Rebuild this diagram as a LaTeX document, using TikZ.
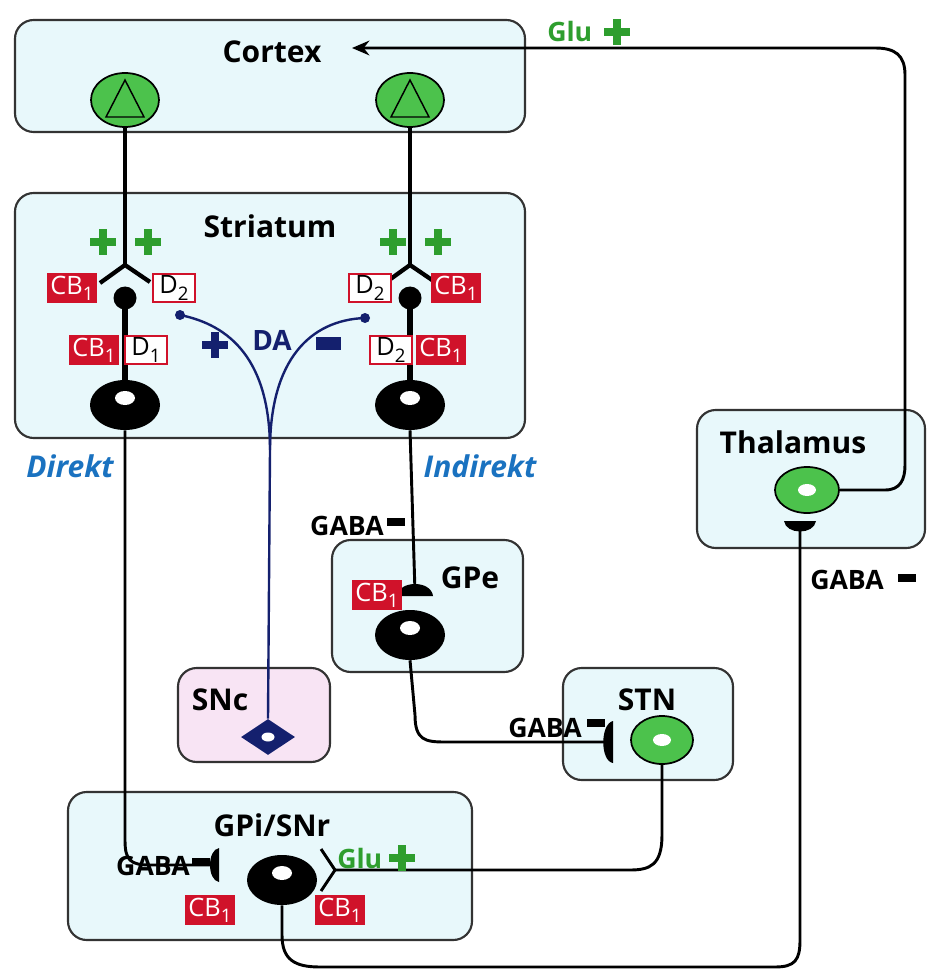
\documentclass[tikz,border=0pt]{standalone}
\usepackage{fontspec}
\setmainfont{Open Sans}
\usetikzlibrary{shapes.geometric,arrows.meta}
\definecolor{boxfill}{HTML}{E8F8FB}
\definecolor{snfill}{HTML}{F8E4F4}
\definecolor{grn}{HTML}{2E9E2E}
\definecolor{ngrn}{HTML}{4CC24C}
\definecolor{dblue}{HTML}{14206E}
\definecolor{lblue}{HTML}{1A72C0}
\definecolor{cbred}{HTML}{D0122A}
\newcommand{\pplus}[3]{\fill[#3] (#1-13,#2-4) rectangle (#1+13,#2+4); \fill[#3] (#1-4,#2-13) rectangle (#1+4,#2+13);}
\newcommand{\mminus}[3]{\fill[#3] (#1-9,#2-4) rectangle (#1+9,#2+4);}
\newcommand{\sub}[1]{\raisebox{-0.25em}{\fontsize{14}{14}\selectfont #1}}
\begin{document}
\begin{tikzpicture}[x=0.75pt,y=-0.75pt,
 box/.style={draw=black!80,line width=1.6pt,rounded corners=14pt,fill=boxfill},
 ttl/.style={font=\bfseries\fontsize{22.5}{23}\selectfont},
 lbl/.style={font=\bfseries\fontsize{20}{20}\selectfont,inner sep=0pt},
 red/.style={fill=cbred,text=white,font=\fontsize{19}{19}\selectfont,inner sep=2pt,minimum height=30pt*0.75,minimum width=50pt*0.75},
 wht/.style={fill=white,draw=cbred,line width=1.5pt,text=black,font=\fontsize{19}{19}\selectfont,inner sep=1pt,minimum height=27pt*0.75,minimum width=42pt*0.75},
 gneu/.style={ellipse,draw=black,line width=1.3pt,fill=ngrn,minimum width=68pt*0.75,minimum height=54pt*0.75},
 bneu/.style={ellipse,fill=black,minimum width=70pt*0.75,minimum height=50pt*0.75},
 ax/.style={line width=2.2pt,black},
 th/.style={line width=4.5pt,black},
 da/.style={line width=1.8pt,dblue}]
\useasboundingbox (0,0) rectangle (929,973);
% boxes
\draw[box] (15,20) rectangle (525,132);
\draw[box] (15,193) rectangle (525,438);
\draw[box] (697,410) rectangle (925,548);
\draw[box] (332,540) rectangle (523,672);
\draw[box] (563,668) rectangle (733,780);
\draw[box,fill=snfill] (178,668) rectangle (330,762);
\draw[box] (68,792) rectangle (472,940);
\node[ttl] (lcx) at (272,52) {Cortex};
\node[ttl] (lst) at (270,226) {Striatum};
\node[ttl] (lth) at (793,442) {Thalamus};
\node[ttl] (lgpe) at (470,578) {GPe};
\node[ttl] (lstn) at (647,700) {STN};
\node[ttl] (lsnc) at (220,700) {SNc};
\node[ttl] (lgpi) at (272,825) {GPi/SNr};
% cortex neurons
\foreach \n/\x in {c1/125,c2/410}{
 \node[gneu] (\n) at (\x,100) {};
 \draw[line width=1.1pt] (\x-19,117) -- (\x,80) -- (\x+19,117) -- cycle;
}
% striatal branches
\foreach \x/\s in {125/1,410/-1}{
 \coordinate (br\x) at (\x,265);
 \draw[line width=3.2pt] (c\ifnum\x=125 1\else 2\fi.south) -- (br\x);
 \draw[line width=3.2pt] (\x-25,283) -- (br\x) -- (\x+25,282);
 \fill (\x,298) circle (11.5);
 \draw[th] (\x,298) -- (\x,385);
 \node[bneu] (s\x) at (\x,405) {};
 \fill[white] (\x,398) ellipse (10 and 7);
}
\pplus{103}{242}{grn}\pplus{148}{242}{grn}
\pplus{393}{242}{grn}\pplus{438}{242}{grn}
\node[red] (cb1) at (72,288) {CB\sub{1}};
\node[wht] (d2a) at (174,288) {D\sub{2}};
\node[red] (cb2) at (94,350) {CB\sub{1}};
\node[wht] (d1) at (146,350) {D\sub{1}};
\node[wht] (d2b) at (370,288) {D\sub{2}};
\node[red] (cb3) at (456,288) {CB\sub{1}};
\node[wht] (d2c) at (391,350) {D\sub{2}};
\node[red] (cb4) at (441,350) {CB\sub{1}};
% DA
\node[diamond,fill=dblue,minimum width=54pt*0.75,minimum height=36pt*0.75,inner sep=0pt] (snc) at (268,737) {};
\fill[white] (268,737) ellipse (6.5 and 4.5);
\coordinate (dal) at (180,315); \coordinate (dar) at (365,318);
\draw[da] (snc.north) -- (270,450) .. controls (270,360) and (230,325) .. (dal);
\draw[da] (270,450) .. controls (270,360) and (310,320) .. (dar);
\fill[dblue] (dal) circle (5) (dar) circle (5);
\node[lbl,text=dblue,font=\bfseries\fontsize{21}{21}\selectfont] (lda) at (272,340) {DA};
\pplus{215}{345}{dblue}
\fill[dblue] (316,337) rectangle (341,350);
\node[lbl,text=lblue,font=\bfseries\itshape\fontsize{22.5}{23}\selectfont] (ldir) at (70,466) {Direkt};
\node[lbl,text=lblue,font=\bfseries\itshape\fontsize{22.5}{23}\selectfont] (lind) at (480,466) {Indirekt};
% direct path
\node[bneu] (gpi) at (282,880) {}; \fill[white] (282,873) ellipse (10 and 7);
\coordinate (tdir) at (216,865);
\draw[ax] (s125.south) -- (125,840) .. controls (125,860) and (130,865) .. (150,865) -- (tdir);
\fill (219,848) .. controls (207,850) and (207,880) .. (219,882) -- cycle;
\node[lbl,anchor=east] (g1) at (190,866) {GABA}; \mminus{201}{862}{black}
\node[red] (cb5) at (210,910) {CB\sub{1}};
\node[red] (cb6) at (340,910) {CB\sub{1}};
% indirect
\node[bneu] (gpe) at (410,635) {}; \fill[white] (410,628) ellipse (10 and 7);
\draw[ax] (s410.south) -- (415,592);
\fill (397,596) .. controls (399,580) and (431,580) .. (433,596) -- cycle;
\node[lbl,anchor=east] (g2) at (384,526) {GABA}; \mminus{396}{522}{black}
\node[red] (cb7) at (377,595) {CB\sub{1}};
\node[gneu,minimum width=62pt*0.75,minimum height=48pt*0.75] (stn) at (662,740) {}; \fill[white] (662,740) ellipse (9 and 6);
\draw[ax] (gpe.south) -- (415,715) .. controls (415,740) and (425,742) .. (445,742) -- (608,742);
\fill (613,721) .. controls (600,724) and (600,761) .. (613,763) -- cycle;
\node[lbl,anchor=east] (g3) at (582,728) {GABA}; \mminus{596}{723}{black}
% STN to GPi
\coordinate (fork) at (335,870);
\draw[ax] (stn.south) -- (662,835) .. controls (662,865) and (650,870) .. (630,870) -- (fork);
\draw[ax] (321,849) -- (fork) -- (321,891);
\node[lbl,text=grn,anchor=west] (glu1) at (337,858) {Glu}; \pplus{402}{858}{grn}
% GPi to thalamus
\node[gneu,minimum width=64pt*0.75,minimum height=46pt*0.75] (thn) at (807,490) {}; \fill[white] (807,490) ellipse (9 and 6);
\draw[ax] (gpi.south) -- (282,935) .. controls (282,960) and (295,967) .. (320,967) -- (775,967) .. controls (795,967) and (800,960) .. (800,940) -- (800,530);
\fill (784,521) .. controls (786,535) and (814,535) .. (816,521) -- cycle;
\node[lbl,anchor=west] (g4) at (810,580) {GABA}; \mminus{907}{578}{black}
% thalamus to cortex
\coordinate (ctx) at (352,48);
\draw[ax,-{Stealth[length=13pt,width=11pt]}] (thn.east) -- (885,490) .. controls (900,490) and (905,480) .. (905,465) -- (905,75) .. controls (905,55) and (895,48) .. (875,48) -- (ctx);
\node[lbl,text=grn,anchor=west] (glu2) at (547,32) {Glu}; \pplus{617}{32}{grn}
\end{tikzpicture}
\end{document}
